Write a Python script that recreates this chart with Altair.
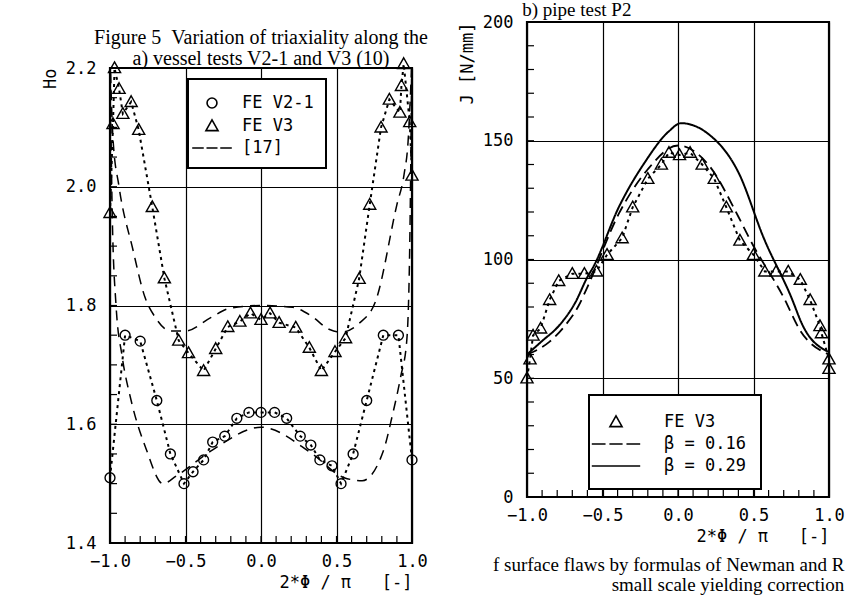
import altair as alt
import pandas as pd

# ---------------- (a) vessel tests ----------------
a_v21_x = [-1.00, -0.90, -0.80, -0.69, -0.60, -0.51, -0.45, -0.38, -0.32, -0.24, -0.16, -0.08, 0.00,
           0.09, 0.17, 0.26, 0.33, 0.39, 0.47, 0.53, 0.61, 0.70, 0.81, 0.91, 1.00]
a_v21_y = [1.51, 1.75, 1.74, 1.64, 1.55, 1.50, 1.52, 1.54, 1.57, 1.58, 1.61, 1.62, 1.62,
           1.62, 1.61, 1.58, 1.565, 1.54, 1.53, 1.50, 1.55, 1.64, 1.75, 1.75, 1.54]

a_v3_x = [-1.00, -0.98, -0.97, -0.94, -0.915, -0.86, -0.81, -0.72, -0.64, -0.545, -0.48, -0.38, -0.30,
          -0.22, -0.14, -0.07, 0.00, 0.06, 0.12, 0.23, 0.32, 0.40, 0.49, 0.56, 0.65, 0.72, 0.795,
          0.85, 0.92, 0.93, 0.945, 0.985, 1.00]
a_v3_y = [1.956, 2.106, 2.20, 2.165, 2.123, 2.143, 2.096, 1.966, 1.846, 1.741, 1.72, 1.69, 1.727,
          1.764, 1.773, 1.787, 1.776, 1.787, 1.771, 1.763, 1.729, 1.69, 1.722, 1.745, 1.845, 1.97, 2.10,
          2.147, 2.125, 2.17, 2.207, 2.109, 2.019]

a_ref_v21_x = [-1.00, -0.985, -0.96, -0.92, -0.86, -0.76, -0.65, -0.56, -0.32, 0.00, 0.34, 0.55, 0.67,
               0.81, 0.87, 0.925, 0.965, 0.985, 1.00]
a_ref_v21_y = [2.25, 1.95, 1.80, 1.715, 1.64, 1.558, 1.50, 1.513, 1.557, 1.595, 1.55, 1.51, 1.505,
               1.555, 1.615, 1.68, 1.74, 1.90, 2.25]

a_ref_v3_x = [-1.00, -0.98, -0.94, -0.85, -0.77, -0.70, -0.60, -0.50, -0.33, -0.21, 0.00, 0.21, 0.33,
              0.45, 0.53, 0.65, 0.76, 0.90, 0.947, 0.974, 1.00]
a_ref_v3_y = [2.22, 2.08, 2.00, 1.896, 1.815, 1.78, 1.757, 1.757, 1.78, 1.795, 1.80, 1.797, 1.783,
              1.76, 1.755, 1.77, 1.808, 1.97, 2.02, 2.076, 2.22]

# ---------------- (b) pipe test ----------------
b_p2_x = [-1.00, -0.98, -0.96, -0.91, -0.85, -0.79, -0.70, -0.62, -0.54, -0.47, -0.37, -0.30, -0.20,
          -0.11, -0.06, 0.01, 0.08, 0.16, 0.24, 0.32, 0.41, 0.50, 0.575, 0.65, 0.73, 0.81, 0.875,
          0.94, 0.95, 1.00, 1.00]
b_p2_y = [50, 58, 68, 71, 83, 91, 94, 94, 95, 102, 109, 122, 134,
          140, 145, 144, 145, 140, 134, 122, 108, 102, 95, 95, 95, 91.5, 83,
          72, 69, 58, 54]

b_b016_x = [-1.00, -0.85, -0.745, -0.66, -0.60, -0.39, -0.20, 0.00, 0.20, 0.40, 0.48, 0.70, 0.81, 1.00]
b_b016_y = [60, 65.4, 72.4, 80.3, 88.4, 119.5, 138, 148, 140, 118, 108, 84, 70, 60]

b_b029_x = [-1.00, -0.90, -0.79, -0.68, -0.60, -0.56, -0.39, -0.22, -0.06, 0.02, 0.20, 0.40, 0.57,
            0.745, 0.83, 1.00]
b_b029_y = [60, 65.7, 72, 81.9, 92.6, 97, 122.3, 140.9, 154, 157.4, 152.9, 136.7, 108.7,
            84.9, 71.7, 61]

# ---------------- ticks ----------------
x_major = [-1.0, -0.5, 0.0, 0.5, 1.0]
x_minor = [-0.9, -0.8, -0.7, -0.6, -0.5, -0.4, -0.3, -0.2, -0.1, 0.0,
           0.1, 0.2, 0.3, 0.4, 0.5, 0.6, 0.7, 0.8, 0.9]
a_y_major = [1.4, 1.6, 1.8, 2.0, 2.2]
a_y_minor = [1.45, 1.5, 1.55, 1.6, 1.65, 1.7, 1.75, 1.8, 1.85, 1.9, 1.95, 2.0, 2.05, 2.1, 2.15]
b_y_major = [0, 50, 100, 150, 200]
b_y_minor = [10, 20, 30, 40, 50, 60, 70, 80, 90, 100, 110, 120, 130, 140, 150, 160, 170, 180, 190]

a_names = ["FE V2-1", "FE V3", "[17]"]
b_names = ["FE V3", "\u03b2 = 0.16", "\u03b2 = 0.29"]

FONT = "DejaVu Sans Mono"
SERIF = "Liberation Serif"
W, H = 302, 475
NB = "\u00a0"

CIRCLE = "M0.45,0A0.45,0.45,0,1,1,-0.45,0A0.45,0.45,0,1,1,0.45,0Z"
TRI = "M0,-0.55L0.55,0.42L-0.55,0.42Z"
DASH_A = "M-1.8,0H-0.75M-0.5,0H0.5M0.75,0H1.8"
DASH_B = "M-2.2,0H-0.95M-0.6,0H0.6M0.95,0H2.2"
SOLID_B = "M-2.2,0H2.2"


def df_xy(xs, ys, name):
    return pd.DataFrame({"x": xs, "y": ys, "s": name, "i": list(range(len(xs)))})


def axis_x(title):
    return alt.Axis(values=x_major, format=".1f", grid=True, ticks=False, domain=False,
                    gridColor="black", gridWidth=1.2, gridOpacity=1, labelFlush=False,
                    labelFont=FONT, labelFontSize=17, labelColor="black", labelPadding=10,
                    title=title, titleFont=FONT, titleFontSize=17, titleFontWeight="normal",
                    titleColor="black", titleAnchor="end", titlePadding=5)


def axis_y(values, fmt, title):
    return alt.Axis(values=values, format=fmt, grid=True, ticks=False, domain=False,
                    gridColor="black", gridWidth=1.2, gridOpacity=1, labelFlush=False,
                    labelFont=FONT, labelFontSize=17, labelColor="black", labelPadding=14,
                    title=title, titleFont=FONT, titleFontSize=17, titleFontWeight="normal",
                    titleColor="black", titleAnchor="end", titlePadding=6)


def panel(xs_title, y_title, y_dom, y_major, y_fmt, y_minor, tick_base,
          pts, pts_names, shape_range, refs, ref_styles, legend):
    xs = alt.Scale(domain=[-1, 1], nice=False, zero=False, padding=0)
    ys = alt.Scale(domain=y_dom, nice=False, zero=False, padding=0)
    ax = axis_x(xs_title)
    ay = axis_y(y_major, y_fmt, y_title)

    layers = []
    for rdf, (dash, sw) in zip(refs, ref_styles):
        layers.append(alt.Chart(rdf).mark_line(
            clip=True, strokeDash=dash, strokeWidth=sw, color="black", interpolate="monotone"
        ).encode(x=alt.X("x:Q", scale=xs, axis=ax), y=alt.Y("y:Q", scale=ys, axis=ay), order="i:Q"))

    pdf = pd.concat(pts, ignore_index=True)
    layers.append(alt.Chart(pdf).mark_line(
        strokeDash=[3, 4], strokeWidth=2, color="black"
    ).encode(x=alt.X("x:Q", scale=xs, axis=ax), y=alt.Y("y:Q", scale=ys, axis=ay),
             detail="s:N", order="i:Q"))
    layers.append(alt.Chart(pdf).mark_point(
        filled=False, color="black", strokeWidth=1.4, size=484, opacity=1
    ).encode(x=alt.X("x:Q", scale=xs, axis=ax), y=alt.Y("y:Q", scale=ys, axis=ay),
             shape=alt.Shape("s:N", scale=alt.Scale(domain=pts_names, range=shape_range),
                             legend=legend)))

    tb = alt.Chart(pd.DataFrame({"x": x_minor})).mark_tick(
        orient="vertical", size=7, thickness=1.2, color="black", yOffset=-3.5, opacity=1
    ).encode(x=alt.X("x:Q", scale=xs, axis=ax), y=alt.YDatum(tick_base, scale=ys, axis=ay))
    tl = alt.Chart(pd.DataFrame({"y": y_minor})).mark_tick(
        orient="horizontal", size=7, thickness=1.2, color="black", xOffset=3.5, opacity=1
    ).encode(y=alt.Y("y:Q", scale=ys, axis=ay), x=alt.XDatum(-1.0, scale=xs, axis=ax))
    layers += [tb, tl]
    return alt.layer(*layers).properties(width=W, height=H)


leg_common = dict(title=None, orient="none", fillColor="white", strokeColor="black",
                  symbolSize=484, symbolStrokeColor="black", symbolStrokeWidth=1.6,
                  symbolFillColor="transparent", labelFont=FONT, labelFontSize=17,
                  labelColor="black", rowPadding=2)

leg_a = alt.Legend(legendX=78, legendY=11, padding=12, labelOffset=18, **leg_common)
leg_b = alt.Legend(legendX=62, legendY=373, padding=15, labelOffset=36, **leg_common)

xt = "2*\u03a6" + NB + "/" + NB + "\u03c0" + NB * 3 + "[-]"

left = panel(
    xt, "Ho", [1.4, 2.2], a_y_major, ".1f", a_y_minor, 1.4,
    [df_xy(a_v21_x, a_v21_y, a_names[0]), df_xy(a_v3_x, a_v3_y, a_names[1])],
    a_names, [CIRCLE, TRI, DASH_A],
    [df_xy(a_ref_v21_x, a_ref_v21_y, "r1"), df_xy(a_ref_v3_x, a_ref_v3_y, "r2")],
    [([10, 7], 1.5), ([10, 7], 1.5)],
    leg_a,
).properties(title=alt.TitleParams(
    ["Figure 5" + NB * 2 + "Variation of triaxiality along the",
     "a) vessel tests V2-1 and V3 (10)"],
    anchor="middle", font=SERIF, fontSize=20, fontWeight="normal", lineHeight=21,
    color="black", offset=-14))

# thin empty strip above panel (a): shifts panel (a) below panel (b) as in the original layout
spacer = alt.Chart(pd.DataFrame({"x": [0.0]})).mark_point(opacity=0).encode(
    x=alt.X("x:Q", axis=None), y=alt.Y("x:Q", axis=None)
).properties(width=W, height=1, view=alt.ViewBackground(strokeOpacity=0))

right = panel(
    xt, "J [N/mm]", [0, 200], b_y_major, "d", b_y_minor, 0,
    [df_xy(b_p2_x, b_p2_y, b_names[0])],
    b_names, [TRI, DASH_B, SOLID_B],
    [df_xy(b_b016_x, b_b016_y, "r1"), df_xy(b_b029_x, b_b029_y, "r2")],
    [([11, 6], 1.8), ([1, 0], 2.0)],
    leg_b,
).properties(title=alt.TitleParams(
    ["f surface flaws by formulas of Newman and R", "small scale yielding correction"],
    orient="bottom", anchor="end", font=SERIF, fontSize=19, fontWeight="normal",
    lineHeight=20, color="black", offset=12))

left_col = alt.vconcat(spacer, left, spacing=0).resolve_scale(
    x="independent", y="independent", shape="independent"
).resolve_legend(shape="independent")

chart = alt.hconcat(left_col, right, spacing=27).resolve_scale(
    x="independent", y="independent", shape="independent"
).resolve_legend(shape="independent").properties(
    title=alt.TitleParams("b) pipe test P2", anchor="start", dx=482, font=SERIF, fontSize=19,
                          fontWeight="normal", color="black", offset=-8),
    padding={"left": 40, "top": 0, "right": 0, "bottom": 0},
    background="white",
).configure_view(stroke="black", strokeWidth=2.2).configure_legend(strokeWidth=2)

chart.save("out.html", embed_options={"renderer": "svg", "actions": False})
